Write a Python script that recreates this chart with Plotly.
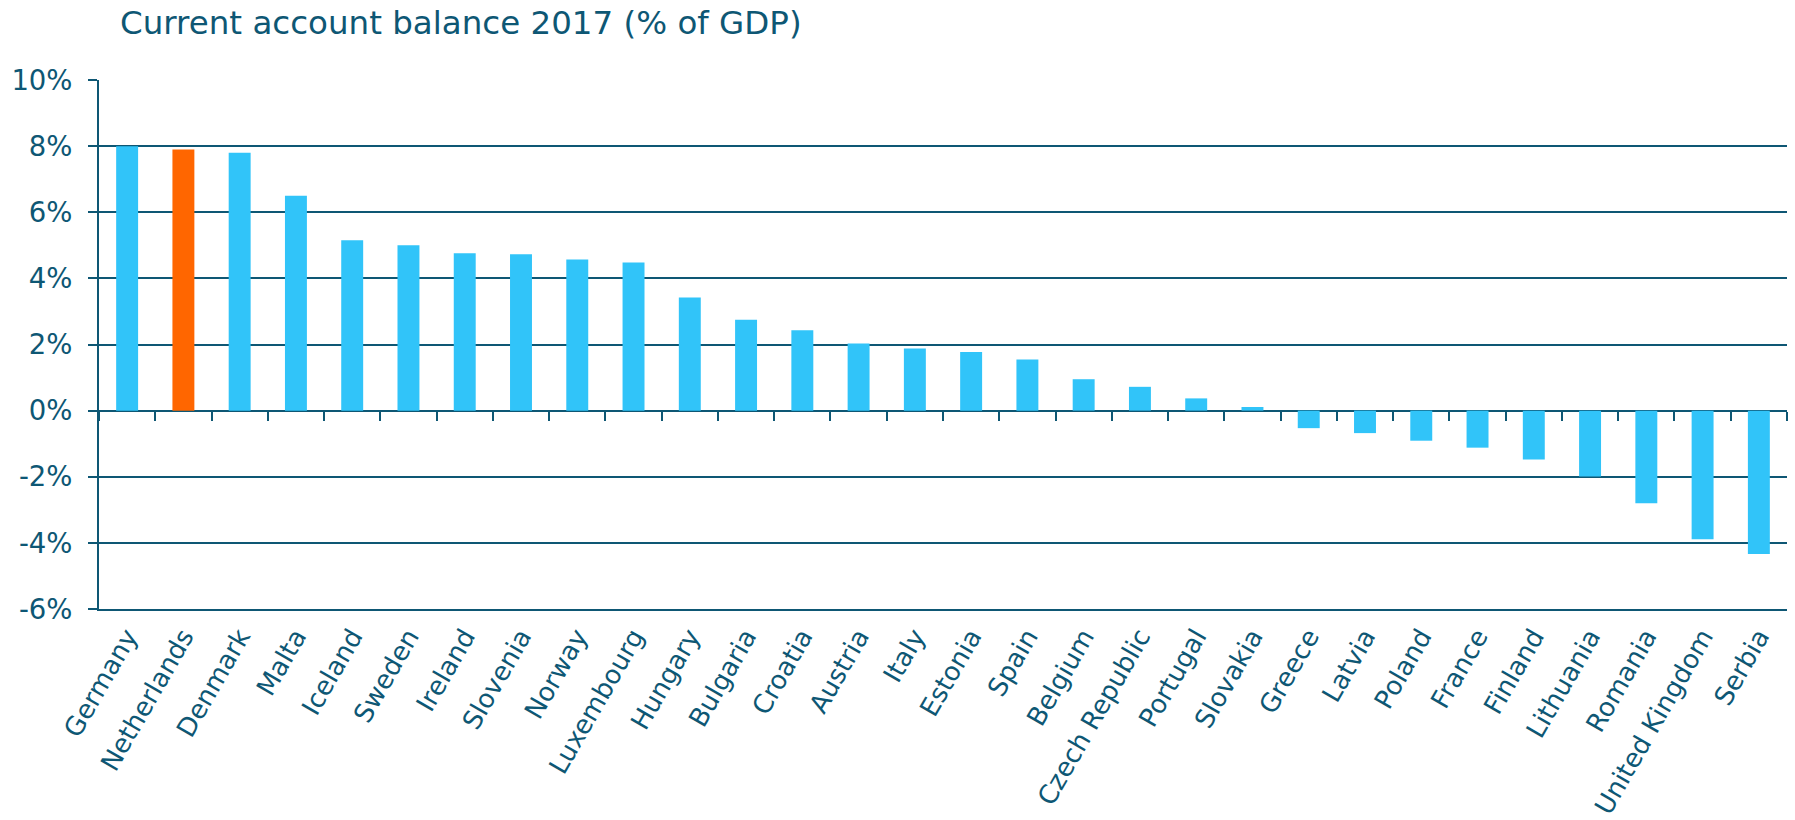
import plotly.graph_objects as go

# Current account balance by country, 2017 (% of GDP)
countries = [
    "Germany", "Netherlands", "Denmark", "Malta", "Iceland", "Sweden", "Ireland",
    "Slovenia", "Norway", "Luxembourg", "Hungary", "Bulgaria", "Croatia", "Austria",
    "Italy", "Estonia", "Spain", "Belgium", "Czech Republic", "Portugal", "Slovakia",
    "Greece", "Latvia", "Poland", "France", "Finland", "Lithuania", "Romania",
    "United Kingdom", "Serbia",
]
balance = [
    8.0, 7.9, 7.8, 6.5, 5.15, 5.0, 4.76,
    4.73, 4.57, 4.48, 3.42, 2.75, 2.43, 2.03,
    1.88, 1.77, 1.55, 0.95, 0.72, 0.37, 0.11,
    -0.53, -0.68, -0.91, -1.12, -1.48, -1.99, -2.8,
    -3.89, -4.34,
]
highlight = "Netherlands"

y_tickvals = [-6, -4, -2, 0, 2, 4, 6, 8, 10]
y_ticktext = ["-6%", "-4%", "-2%", "0%", "2%", "4%", "6%", "8%", "10%"]

TEAL = "#0E5774"
BLUE = "#31C4F9"
ORANGE = "#FF6600"

colors = [ORANGE if c == highlight else BLUE for c in countries]

fig = go.Figure()
fig.add_trace(go.Bar(
    x=countries, y=balance, marker=dict(color=colors, line=dict(width=0)),
    hoverinfo="x+y", showlegend=False,
))
# companion trace so the zero-line axis carries the category boundaries
fig.add_trace(go.Scatter(
    x=countries, y=balance, xaxis="x2", mode="markers",
    marker=dict(opacity=0), hoverinfo="skip", showlegend=False,
))

fig.update_layout(
    width=1795, height=820,
    margin=dict(l=99, r=8, t=80, b=211, autoexpand=False),
    paper_bgcolor="white", plot_bgcolor="white",
    bargap=0.61,
    title=dict(
        text="Current account balance 2017 (% of GDP)",
        x=120 / 1795, xref="container", xanchor="left",
        y=1 - 23 / 820, yref="container", yanchor="middle",
        font=dict(family="DejaVu Sans", size=32.5, color=TEAL),
    ),
    xaxis=dict(
        type="category", ticks="", showgrid=False, automargin=False,
        showline=True, linecolor=TEAL, linewidth=2,
        tickangle=-60, range=[-0.5, len(countries) - 0.5],
        tickfont=dict(family="DejaVu Sans", size=26, color=TEAL),
    ),
    xaxis2=dict(
        type="category", overlaying="x", anchor="free", position=6 / 16,
        range=[-0.5, len(countries) - 0.5], automargin=False,
        tickson="boundaries", ticks="outside", ticklen=9, tickwidth=2,
        tickcolor=TEAL, showticklabels=False, showgrid=False, showline=False,
    ),
    yaxis=dict(
        range=[-6, 10], tickvals=y_tickvals, ticktext=y_ticktext,
        ticks="outside", ticklen=9, tickwidth=2, tickcolor=TEAL,
        showgrid=True, gridcolor=TEAL, gridwidth=2, automargin=False,
        zeroline=True, zerolinecolor=TEAL, zerolinewidth=2,
        showline=True, linecolor=TEAL, linewidth=2,
        ticklabelstandoff=10,
        tickfont=dict(family="DejaVu Sans", size=27.5, color=TEAL),
    ),
)

fig.write_html("out.html")
